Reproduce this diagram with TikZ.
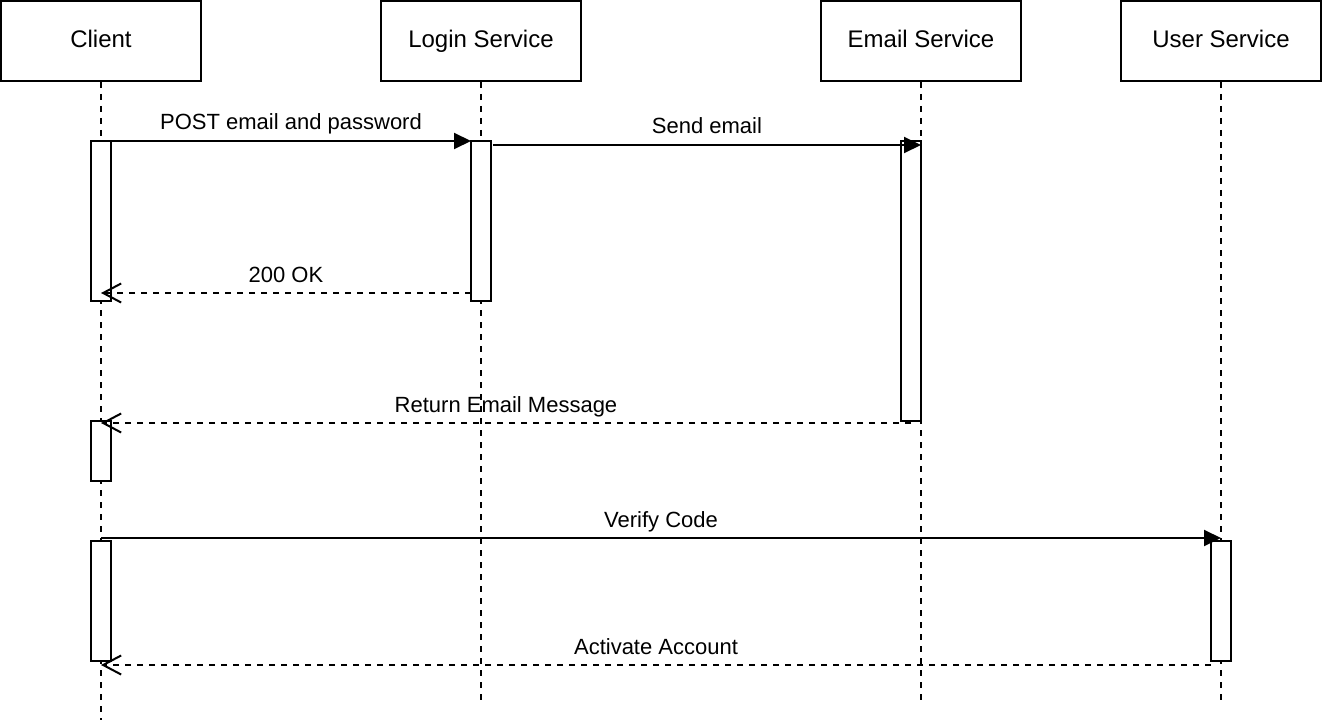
\documentclass[tikz,border=0pt]{standalone}
\usepackage{fontspec}
\setmainfont{Liberation Sans}
\usetikzlibrary{arrows.meta}

\tikzset{
  party/.style={draw, line width=2pt, minimum width=200pt, minimum height=80pt,
    text height=17pt, text depth=3pt, font=\fontsize{24}{28}\selectfont},
  actbox/.style={draw, fill=white, line width=2pt, minimum width=20pt, inner sep=0pt, outer sep=0pt},
  lifeline/.style={line width=2pt, dash pattern=on 6pt off 6pt},
  callmsg/.style={line width=2pt, -{Triangle[length=17pt,width=16pt]}},
  replymsg/.style={line width=2pt, dash pattern=on 6pt off 6pt,
    -{Straight Barb[length=18pt,width=19pt]}},
  msglabel/.style={anchor=base, yshift=11pt, inner sep=0pt, font=\fontsize{22}{26}\selectfont}
}

\begin{document}
\begin{tikzpicture}[x=1pt, y=-1pt]
    \useasboundingbox (0,0) rectangle (1322,722);

    % Draw the participants
    \node[party] (client) at (101,41) {Client};
    \node[party] (login) at (481,41) {Login Service};
    \node[party] (email) at (921,41) {Email Service};
    \node[party] (user) at (1221,41) {User Service};

    % Lifelines
    \foreach \p/\len in {client/720, login/700, email/700, user/700}
        \draw[lifeline] (\p.south) -- (\p.south |- 0,\len);

    % Activation boxes
    \node[actbox, minimum height=160pt] (cact1) at (101,221) {};
    \node[actbox, minimum height=160pt] (lact) at (481,221) {};
    \node[actbox, minimum height=280pt] (eact) at (911,281) {};
    \node[actbox, minimum height=60pt] (cact2) at (101,451) {};
    \node[actbox, minimum height=120pt] (cact3) at (101,601) {};
    \node[actbox, minimum height=120pt] (uact) at (1221,601) {};

    % Messages
    \draw[callmsg] (cact1.north east) -- node[msglabel] {POST email and password} (lact.north west);
    \draw[callmsg] ([xshift=2pt,yshift=-4pt]lact.north east) -- node[msglabel] {Send email} ([yshift=-4pt]eact.north east);
    \draw[replymsg] ([yshift=8pt]lact.south west) -- node[msglabel] {200 OK} ([yshift=8pt]cact1.south);
    \draw[replymsg] ([yshift=-2pt]eact.south) -- node[msglabel] {Return Email Message} ([yshift=-2pt]cact2.north);
    \draw[callmsg] ([yshift=3pt]cact3.north) -- node[msglabel] {Verify Code} ([yshift=3pt]uact.north);
    \draw[replymsg] ([yshift=-4pt]uact.south west) -- node[msglabel] {Activate Account} ([yshift=-4pt]cact3.south);

\end{tikzpicture}
\end{document}
